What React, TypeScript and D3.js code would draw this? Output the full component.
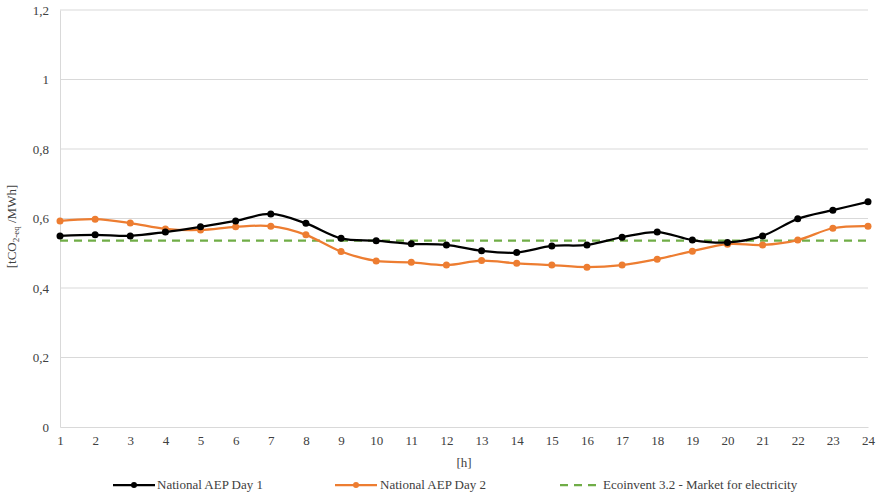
import { useEffect, useRef } from 'react';
import * as d3 from 'd3';

// hours of the day
const hours = d3.range(1, 25);

// national AEP emission factors, tCO2-eq/MWh
const day1 = [0.55, 0.553, 0.55, 0.561, 0.576, 0.593, 0.613, 0.586, 0.543, 0.536, 0.527, 0.524,
  0.507, 0.502, 0.521, 0.524, 0.546, 0.561, 0.538, 0.531, 0.55, 0.599, 0.624, 0.648];
const day2 = [0.593, 0.598, 0.587, 0.57, 0.567, 0.576, 0.578, 0.553, 0.505, 0.478, 0.474, 0.466,
  0.479, 0.471, 0.466, 0.46, 0.466, 0.483, 0.506, 0.526, 0.524, 0.538, 0.572, 0.578];
const ecoinvent = 0.536;

const yTicks = [0, 0.2, 0.4, 0.6, 0.8, 1, 1.2];
const legendLabels = ['National AEP Day 1', 'National AEP Day 2', 'Ecoinvent 3.2 - Market for electricity'];

const FONT = "'Times New Roman', 'Liberation Serif', serif";

export default function App() {
  const svgRef = useRef<SVGSVGElement>(null);
  const width = 879;
  const height = 496;
  const left = 60, right = 868, top = 10, bottom = 427;

  useEffect(() => {
    const svg = d3.select(svgRef.current);
    svg.selectAll('*').remove();

    const x = d3.scaleLinear().domain([1, 24]).range([left, right]);
    const y = d3.scaleLinear().domain([0, 1.2]).range([bottom, top]);
    const fmt = (v: number) => String(+v.toFixed(1)).replace('.', ',');

    // gridlines
    svg.append('g')
      .selectAll('line')
      .data(yTicks.filter(t => t > 0))
      .join('line')
      .attr('x1', left).attr('x2', right)
      .attr('y1', d => y(d)).attr('y2', d => y(d))
      .attr('stroke', '#d9d9d9').attr('stroke-width', 1);

    // y axis
    const yAxis = d3.axisLeft(y).tickValues(yTicks).tickFormat(d => fmt(d as number)).tickSize(0).tickPadding(11);
    svg.append('g')
      .attr('transform', `translate(${left},0)`)
      .call(yAxis)
      .attr('font-family', null)
      .call(g => g.select('.domain').attr('stroke', '#d9d9d9'))
      .call(g => g.selectAll('text').attr('fill', '#404040').style('font-size', '13px').style('font-family', FONT));

    // x axis
    const xAxis = d3.axisBottom(x).tickValues(hours).tickFormat(d => String(d)).tickSize(0).tickPadding(9);
    svg.append('g')
      .attr('transform', `translate(0,${bottom})`)
      .call(xAxis)
      .attr('font-family', null)
      .call(g => g.select('.domain').attr('stroke', '#d9d9d9'))
      .call(g => g.selectAll('text').attr('fill', '#404040').style('font-size', '13px').style('font-family', FONT));

    // axis titles
    svg.append('text')
      .attr('x', x(12.5)).attr('y', 467)
      .attr('text-anchor', 'middle')
      .style('font-family', FONT).style('font-size', '13px').attr('fill', '#404040')
      .text('[h]');

    const yt = svg.append('text')
      .attr('transform', `translate(16,${(top + bottom) / 2 + 8}) rotate(-90)`)
      .attr('text-anchor', 'middle')
      .style('font-family', FONT).style('font-size', '13px').attr('fill', '#404040');
    yt.append('tspan').text('[tCO');
    yt.append('tspan').style('font-size', '9px').attr('dy', 3).text('2-eq');
    yt.append('tspan').attr('dy', -3).text(' /MWh]');

    // lines
    const line = d3.line<number>()
      .x((_, i) => x(hours[i]))
      .y(d => y(d))
      .curve(d3.curveCardinal);

    svg.append('line')
      .attr('x1', x(1)).attr('x2', x(24))
      .attr('y1', y(ecoinvent)).attr('y2', y(ecoinvent))
      .attr('stroke', '#70ad47').attr('stroke-width', 2.25)
      .attr('stroke-dasharray', '8,6');

    const series = [
      { data: day2, color: '#ed7d31' },
      { data: day1, color: '#000000' },
    ];
    series.forEach(s => {
      svg.append('path')
        .datum(s.data)
        .attr('d', line)
        .attr('fill', 'none')
        .attr('stroke', s.color)
        .attr('stroke-width', 2.25);
      svg.append('g')
        .selectAll('circle')
        .data(s.data)
        .join('circle')
        .attr('cx', (_, i) => x(hours[i]))
        .attr('cy', d => y(d))
        .attr('r', 3.5)
        .attr('fill', s.color);
    });

    // legend
    const ly = 485;
    const items = [
      { x0: 113, x1: 155, tx: 157, color: '#000000', dashed: false },
      { x0: 335, x1: 377, tx: 380, color: '#ed7d31', dashed: false },
      { x0: 560, x1: 600, tx: 603, color: '#70ad47', dashed: true },
    ];
    items.forEach((it, i) => {
      const g = svg.append('g');
      g.append('line')
        .attr('x1', it.x0).attr('x2', it.x1)
        .attr('y1', ly).attr('y2', ly)
        .attr('stroke', it.color).attr('stroke-width', 2.25)
        .attr('stroke-dasharray', it.dashed ? '8,6' : null);
      if (!it.dashed) {
        g.append('circle')
          .attr('cx', (it.x0 + it.x1) / 2).attr('cy', ly).attr('r', 3)
          .attr('fill', it.color);
      }
      g.append('text')
        .attr('x', it.tx).attr('y', ly + 4)
        .style('font-family', FONT).style('font-size', '13px').attr('fill', '#404040')
        .text(legendLabels[i]);
    });
  }, []);

  return (
    <svg ref={svgRef} width={width} height={height}
      style={{ position: 'absolute', left: 0, top: 0, background: '#fff' }} />
  );
}
